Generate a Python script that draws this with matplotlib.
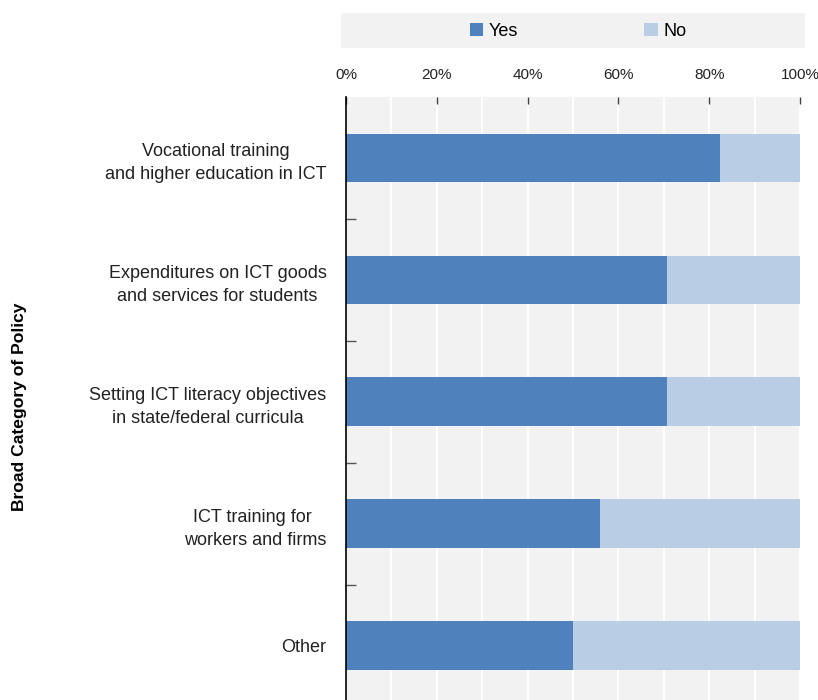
import numpy as np
import matplotlib
matplotlib.use("Agg")
import matplotlib.pyplot as plt
from matplotlib.patches import Rectangle
from matplotlib.ticker import MultipleLocator, FixedLocator, PercentFormatter

plt.rcParams['font.family'] = ['Liberation Sans Narrow', 'Liberation Sans', 'DejaVu Sans']

# Share of respondents per policy category
categories = [
    "Vocational training\nand higher education in ICT",
    "Expenditures on ICT goods\nand services for students",
    "Setting ICT literacy objectives\nin state/federal curricula",
    "ICT training for \nworkers and firms",
    "Other",
]
yes_share = [0.824, 0.706, 0.706, 0.56, 0.50]
no_share = [1 - v for v in yes_share]
series_labels = ["Yes", "No"]
yes_color = "#4F81BD"
no_color = "#B9CDE5"
bg_color = "#F2F2F2"

fig = plt.figure(figsize=(8.18, 7.0), dpi=100)
W, H = 818, 700
ax = fig.add_axes([346 / W, -6.7 / H, 454 / W, (700 - 97 + 6.7) / H])
ax.set_facecolor(bg_color)

y = np.arange(len(categories))
ax.barh(y, yes_share, height=0.4, color=yes_color, label=series_labels[0], zorder=3)
ax.barh(y, no_share, left=yes_share, height=0.4, color=no_color,
        label=series_labels[1], zorder=3)

ax.set_xlim(0, 1)
ax.set_ylim(len(categories) - 0.5, -0.5)

# x axis on top, gridlines every 10%
ax.xaxis.tick_top()
ax.xaxis.set_major_locator(MultipleLocator(0.2))
ax.xaxis.set_minor_locator(MultipleLocator(0.1))
ax.xaxis.set_major_formatter(PercentFormatter(1.0, decimals=0))
ax.grid(axis='x', which='both', color='white', linewidth=1.5, zorder=1)
ax.tick_params(axis='x', which='major', direction='in', length=5, width=1,
               color='#404040', pad=11, labelsize=11, labelcolor='#222222')
ax.tick_params(axis='x', which='minor', length=0)

# category labels, with small ticks between the groups
ax.set_yticks(y)
ax.set_yticklabels(categories, multialignment='center', linespacing=1.45)
ax.yaxis.set_minor_locator(FixedLocator(np.arange(0.5, len(categories) - 0.5, 1)))
ax.tick_params(axis='y', which='major', length=0, pad=14, labelsize=13,
               labelcolor='#222222')
ax.tick_params(axis='y', which='minor', direction='in', length=7, width=1,
               color='#555555')

for side in ['top', 'right', 'bottom']:
    ax.spines[side].set_visible(False)
ax.spines['left'].set_color('black')
ax.spines['left'].set_linewidth(1.2)
ax.spines['left'].set_zorder(4)

fig.text(20 / W, 1 - 407 / H, "Broad Category of Policy", rotation=90,
         ha='center', va='center', fontsize=12.6, fontweight='bold', color='black')

# legend strip
fig.patches.append(Rectangle((341 / W, 1 - 48 / H), 464 / W, 35 / H,
                             transform=fig.transFigure, facecolor=bg_color,
                             edgecolor='none', zorder=0))
handles, labels = ax.get_legend_handles_labels()
fig.legend(handles, labels, loc='center', bbox_to_anchor=(578 / W, 1 - 31 / H),
           ncol=2, frameon=False, fontsize=13, handlelength=0.75,
           handleheight=0.75, handletextpad=0.3, columnspacing=7.0)

fig.savefig("out.png", dpi=100)
